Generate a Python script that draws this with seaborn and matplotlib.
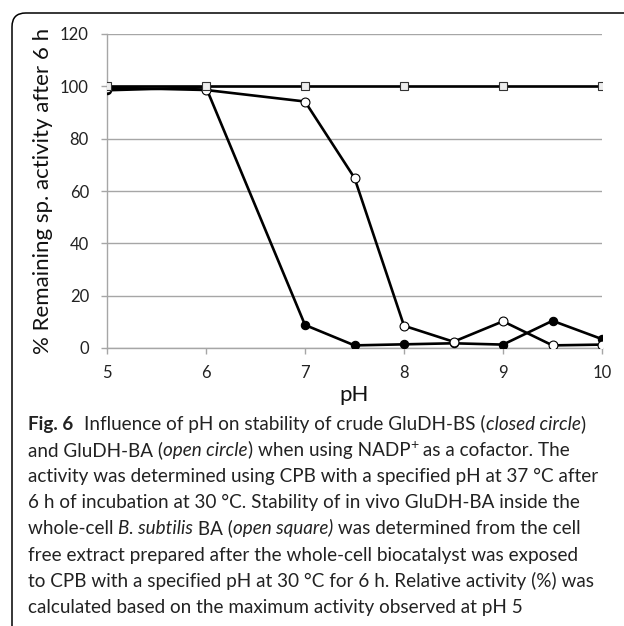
import matplotlib
matplotlib.use("Agg")
import matplotlib.pyplot as plt
import seaborn as sns
import pandas as pd
from matplotlib.patches import FancyBboxPatch

# ---- data ----
ph_circles = [5, 6, 7, 7.5, 8, 8.5, 9, 9.5, 10]
gludh_bs = [98.5, 99.6, 8.8, 1.0, 1.4, 1.8, 1.3, 10.4, 3.4]      # closed circle
gludh_ba = [99.5, 98.6, 94.2, 65.0, 8.5, 2.4, 10.2, 1.0, 1.3]    # open circle
ph_square = [5, 6, 7, 8, 9, 10]
whole_cell = [100, 100, 100, 100, 100, 100]                       # open square
x_ticks = [5, 6, 7, 8, 9, 10]
y_ticks = [0, 20, 40, 60, 80, 100, 120]

sns.set_theme(style="white")
plt.rcParams['font.family'] = ['Lato', 'DejaVu Sans']

W, H = 624, 626
fig = plt.figure(figsize=(W / 100, H / 100), dpi=100)
ax_l, ax_r, ax_t, ax_b = 107, 602, 34, 348
ax = fig.add_axes([ax_l / W, 1 - ax_b / H, (ax_r - ax_l) / W, (ax_b - ax_t) / H])

df_bs = pd.DataFrame({"pH": ph_circles, "val": gludh_bs})
df_ba = pd.DataFrame({"pH": ph_circles, "val": gludh_ba})
df_sq = pd.DataFrame({"pH": ph_square, "val": whole_cell})

lw = 1.9
sns.lineplot(data=df_bs, x="pH", y="val", ax=ax, color="black", lw=lw,
             marker="o", markersize=6, markerfacecolor="black",
             markeredgecolor="black", markeredgewidth=0.8, zorder=3)
sns.lineplot(data=df_ba, x="pH", y="val", ax=ax, color="black", lw=lw,
             marker="o", markersize=6.4, markerfacecolor="white",
             markeredgecolor="black", markeredgewidth=0.8, zorder=4)
sns.lineplot(data=df_sq, x="pH", y="val", ax=ax, color="black", lw=lw,
             marker="s", markersize=6.4, markerfacecolor="#eeeeee",
             markeredgecolor="#333333", markeredgewidth=0.8, zorder=5)

ax.set_xlim(5, 10)
ax.set_ylim(0, 120)
ax.set_xticks(x_ticks)
ax.set_yticks(y_ticks)
ax.set_xticklabels([str(v) for v in x_ticks], fontsize=12, color="#222222")
ax.set_yticklabels([str(v) for v in y_ticks], fontsize=12, color="#222222")
ax.yaxis.grid(True, color="#a6a6a6", lw=1.0)
ax.xaxis.grid(False)
for s in ["top", "right"]:
    ax.spines[s].set_visible(False)
for s in ["left", "bottom"]:
    ax.spines[s].set_color("#a6a6a6")
    ax.spines[s].set_linewidth(1.0)
ax.tick_params(axis="both", which="both", length=4, width=1.0, color="#a6a6a6",
               direction="out", bottom=True, left=True)
ax.tick_params(axis="y", pad=9)
ax.tick_params(axis="x", pad=8)
ax.set_xlabel("pH", fontsize=16, color="#111111", va="center")
ax.xaxis.set_label_coords((354 - ax_l) / (ax_r - ax_l), -(395 - ax_b) / (ax_b - ax_t))
ax.set_ylabel("% Remaining sp. activity after 6 h", fontsize=16, color="#111111", va="center")
ax.yaxis.set_label_coords(-(ax_l - 43) / (ax_r - ax_l), 0.5)
ax.set_axisbelow(True)

# ---- rounded frame ----
frame = FancyBboxPatch((12 / W, -0.2), 2.0, 1 - 13 / H + 0.2,
                       boxstyle="round,pad=0,rounding_size=0.022",
                       transform=fig.transFigure, fill=False, ec="black", lw=1.1,
                       clip_on=False)
fig.patches.append(frame)

# ---- caption ----
cap_fs = 13.6
x0 = 28
base0 = 430
dy = 26.1
lines = [
    [("Fig. 6", "bold", "normal"), ("GAP", "gap", "normal"),
     ("Influence of pH on stability of crude GluDH-BS (", "normal", "normal"),
     ("closed circle", "normal", "italic"), (")", "normal", "normal")],
    [("and GluDH-BA (", "normal", "normal"), ("open circle", "normal", "italic"),
     (") when using NADP", "normal", "normal"), ("+", "sup", "normal"), (" as a cofactor. The", "normal", "normal")],
    [("activity was determined using CPB with a specified pH at 37 °C after", "normal", "normal")],
    [("6 h of incubation at 30 °C. Stability of in vivo GluDH-BA inside the", "normal", "normal")],
    [("whole-cell ", "normal", "normal"), ("B. subtilis", "normal", "italic"), (" BA (", "normal", "normal"),
     ("open square)", "normal", "italic"), (" was determined from the cell", "normal", "normal")],
    [("free extract prepared after the whole-cell biocatalyst was exposed", "normal", "normal")],
    [("to CPB with a specified pH at 30 °C for 6 h. Relative activity (%) was", "normal", "normal")],
    [("calculated based on the maximum activity observed at pH 5", "normal", "normal")],
]
renderer = fig.canvas.get_renderer()
for i, segs in enumerate(lines):
    xp = x0
    yb = base0 + i * dy
    for txt, wt, st in segs:
        if wt == "gap":
            xp += 11
            continue
        if wt == "sup":
            t = fig.text(xp / W, 1 - (yb - 7) / H, txt, fontsize=cap_fs * 0.75,
                         color="#222222", va="baseline", ha="left")
        else:
            t = fig.text(xp / W, 1 - yb / H, txt, fontsize=cap_fs, fontweight=wt,
                         fontstyle=st, color="#222222", va="baseline", ha="left")
        bb = t.get_window_extent(renderer=renderer)
        xp = bb.x1

fig.savefig("out.png", dpi=100)
